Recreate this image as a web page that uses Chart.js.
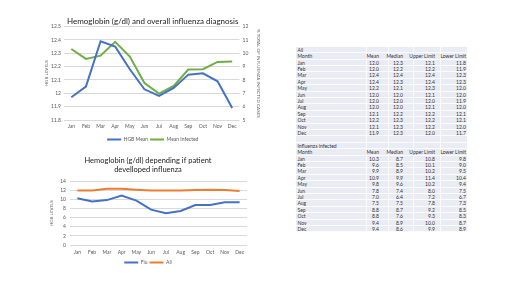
<!DOCTYPE html>
<html>
<head>
<meta charset="utf-8">
<script src="https://cdn.jsdelivr.net/npm/chart.js@4.4.0/dist/chart.umd.min.js"></script>
<style>
html, body { margin: 0; padding: 0; background: #fff; width: 520px; height: 292px; overflow: hidden; font-family: Lato, sans-serif; }
#c1 { position: absolute; left: 30px; top: 14px; }
#c2 { position: absolute; left: 30px; top: 150px; }
#sheet { position: absolute; left: 296px; top: 46.8px; width: 171px; height: 185.6px; background: #eaecf3; }
.row { position: absolute; left: 0; width: 171px; height: 6.4px; border-bottom: 1px solid rgba(255,255,255,0.8); box-sizing: border-box; }
.vline { position: absolute; top: 0; width: 1px; height: 185.6px; background: rgba(255,255,255,0.8); }
.cell { position: absolute; font-size: 5px; line-height: 6.4px; color: #333; white-space: nowrap; }
</style>
</head>
<body>
<canvas id="c1" width="250" height="138"></canvas>
<canvas id="c2" width="250" height="125"></canvas>
<div id="sheet"></div>
<script>
var months = ['Jan', 'Feb', 'Mar', 'Apr', 'May', 'Jun', 'Jul', 'Aug', 'Sep', 'Oct', 'Nov', 'Dec'];

// top chart
var hgbMean = [11.97, 12.05, 12.39, 12.35, 12.18, 12.03, 11.98, 12.04, 12.14, 12.15, 12.09, 11.89];
var meanInfected = [10.32, 9.58, 9.82, 10.86, 9.75, 7.77, 6.98, 7.55, 8.78, 8.81, 9.35, 9.38];
var hgbTicks = [11.8, 11.9, 12.0, 12.1, 12.2, 12.3, 12.4, 12.5];
var infectedTicks = [5, 6, 7, 8, 9, 10, 11, 12];

// bottom chart
var fluMean = [10.3, 9.6, 9.9, 10.9, 9.8, 7.8, 7.0, 7.5, 8.8, 8.8, 9.4, 9.4];
var allMean = [12.0, 12.0, 12.4, 12.4, 12.2, 12.0, 12.0, 12.0, 12.1, 12.2, 12.1, 11.9];
var levelTicks = [0, 2, 4, 6, 8, 10, 12, 14];

// tables
var tableHeaders = ['Mean', 'Median', 'Upper Limit', 'Lower Limit'];
var allMedian = [12.3, 12.2, 12.4, 12.3, 12.1, 12.0, 12.0, 12.0, 12.2, 12.3, 12.3, 12.3];
var allUpper = [12.1, 12.2, 12.4, 12.4, 12.3, 12.1, 12.0, 12.1, 12.2, 12.2, 12.2, 12.0];
var allLower = [11.8, 11.9, 12.3, 12.3, 12.0, 12.0, 11.9, 12.0, 12.1, 12.1, 12.0, 11.7];
var infMedian = [8.7, 8.5, 8.9, 9.9, 9.6, 7.4, 6.4, 7.5, 8.7, 7.6, 8.9, 8.6];
var infUpper = [10.8, 10.1, 10.2, 11.4, 10.2, 8.0, 7.2, 7.8, 9.2, 9.3, 10.0, 9.9];
var infLower = [9.8, 9.0, 9.5, 10.4, 9.4, 7.5, 6.7, 7.3, 8.5, 8.3, 8.7, 8.9];

Chart.defaults.font.family = 'Lato, sans-serif';
Chart.defaults.color = '#595959';
Chart.defaults.animation = false;

function setTicks(list) {
    return function (axis) { axis.ticks = list.map(function (v) { return { value: v }; }); };
}
function setWidth(w) {
    return function (axis) { axis.width = w; };
}
function setHeight(h) {
    return function (axis) { axis.height = h; };
}
function fmt(v) { return String(+v.toFixed(1)); }

var legendOpts = {
    position: 'bottom',
    labels: { usePointStyle: true, pointStyle: 'line', pointStyleWidth: 14, font: { size: 5 }, padding: 2, color: '#595959' }
};

new Chart(document.getElementById('c1'), {
    type: 'line',
    data: {
        labels: months,
        datasets: [{
            label: 'HGB Mean',
            data: hgbMean,
            borderColor: '#4472C4',
            backgroundColor: '#4472C4',
            borderWidth: 2,
            pointRadius: 0,
            yAxisID: 'y'
        }, {
            label: 'Mean Infected',
            data: meanInfected,
            borderColor: '#70AD47',
            backgroundColor: '#70AD47',
            borderWidth: 2,
            pointRadius: 0,
            yAxisID: 'y1'
        }]
    },
    options: {
        responsive: false,
        layout: { padding: { left: 14, right: 18.5, top: 0, bottom: 0 } },
        plugins: {
            title: {
                display: true,
                text: 'Hemoglobin (g/dl) and overall influenza diagnosis',
                font: { size: 8, weight: 'normal' },
                color: '#222',
                padding: { top: 3, bottom: 0 }
            },
            legend: legendOpts,
            tooltip: { enabled: false }
        },
        scales: {
            x: {
                offset: true,
                grid: { display: false, drawTicks: false },
                border: { display: false },
                ticks: { font: { size: 5 }, padding: 3, maxRotation: 0, autoSkip: false },
                afterFit: setHeight(15)
            },
            y: {
                position: 'left',
                min: 11.8,
                max: 12.5,
                afterBuildTicks: setTicks(hgbTicks),
                ticks: { font: { size: 5 }, padding: 3, autoSkip: false, callback: fmt },
                grid: { color: '#d9d9d9', drawTicks: false },
                border: { display: false },
                title: { display: true, text: 'HGB LEVELS', font: { size: 4.5 }, padding: 0 },
                afterFit: setWidth(20)
            },
            y1: {
                position: 'right',
                min: 5,
                max: 12,
                afterBuildTicks: setTicks(infectedTicks),
                ticks: { font: { size: 5 }, padding: 3, autoSkip: false },
                grid: { drawOnChartArea: false, drawTicks: false },
                border: { display: false },
                title: { display: true, text: '% TOTAL OF INFLUENZA INFECTED CASES', font: { size: 4.5 }, padding: 0 },
                afterFit: setWidth(22)
            }
        }
    }
});

new Chart(document.getElementById('c2'), {
    type: 'line',
    data: {
        labels: months,
        datasets: [{
            label: 'Flu',
            data: fluMean,
            borderColor: '#4472C4',
            backgroundColor: '#4472C4',
            borderWidth: 2,
            pointRadius: 0
        }, {
            label: 'All',
            data: allMean,
            borderColor: '#ED7D31',
            backgroundColor: '#ED7D31',
            borderWidth: 2,
            pointRadius: 0
        }]
    },
    options: {
        responsive: false,
        layout: { padding: { left: 19, right: 33, top: 0, bottom: 0 } },
        plugins: {
            title: {
                display: true,
                text: ['Hemoglobin (g/dl) depending if patient', 'develloped influenza'],
                font: { size: 7.5, weight: 'normal' },
                color: '#222',
                padding: { top: 6.5, bottom: 7 }
            },
            legend: legendOpts,
            tooltip: { enabled: false }
        },
        scales: {
            x: {
                offset: true,
                grid: { display: false, drawTicks: false },
                border: { display: false },
                ticks: { font: { size: 5 }, padding: 4, maxRotation: 0, autoSkip: false },
                afterFit: setHeight(13)
            },
            y: {
                min: 0,
                max: 14,
                afterBuildTicks: setTicks(levelTicks),
                ticks: { font: { size: 5 }, padding: 4, autoSkip: false },
                grid: { color: '#d9d9d9', drawTicks: false },
                border: { display: false },
                title: { display: true, text: 'HGB LEVELS', font: { size: 4.5 }, padding: 0 },
                afterFit: setWidth(21)
            }
        }
    }
});

// spreadsheet tables on the right
var sheet = document.getElementById('sheet');
var rowH = 6.4;
var textRight = [83, 107, 139, 170];
var colLines = [70, 92, 117, 144];

function addCell(row, text, left, right) {
    var d = document.createElement('div');
    d.className = 'cell';
    d.textContent = text;
    d.style.top = (row * rowH) + 'px';
    if (right !== undefined) d.style.right = (171 - right) + 'px';
    else d.style.left = left + 'px';
    sheet.appendChild(d);
}

for (var r = 0; r < 29; r++) {
    var rd = document.createElement('div');
    rd.className = 'row';
    rd.style.top = (r * rowH) + 'px';
    sheet.appendChild(rd);
}
colLines.forEach(function (x) {
    var v = document.createElement('div');
    v.className = 'vline';
    v.style.left = x + 'px';
    sheet.appendChild(v);
});

function addTable(startRow, title, cols) {
    addCell(startRow, title, 1.5);
    addCell(startRow + 1, 'Month', 1.5);
    tableHeaders.forEach(function (h, j) { addCell(startRow + 1, h, 0, textRight[j]); });
    months.forEach(function (m, i) {
        addCell(startRow + 2 + i, m, 1.5);
        cols.forEach(function (col, j) { addCell(startRow + 2 + i, col[i].toFixed(1), 0, textRight[j]); });
    });
}
addTable(0, 'All', [allMean, allMedian, allUpper, allLower]);
addTable(15, 'Influenza infected', [fluMean, infMedian, infUpper, infLower]);
</script>
</body>
</html>
